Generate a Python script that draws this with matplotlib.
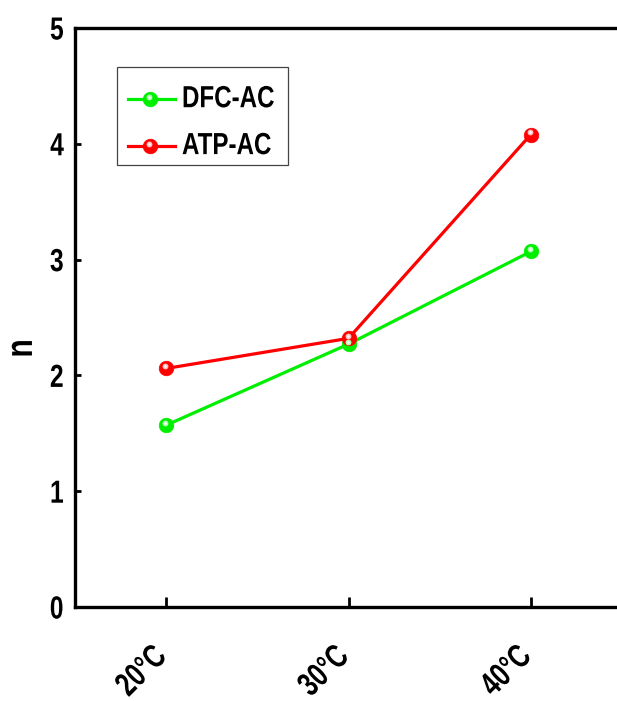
import matplotlib
matplotlib.use("Agg")
import matplotlib.pyplot as plt
import matplotlib.transforms as mtransforms
from matplotlib.patches import Rectangle
from matplotlib.patheffects import AbstractPathEffect

# dados
categorias = ["20°C", "30°C", "40°C"]
dfc_ac = [1.57, 2.27, 3.07]
atp_ac = [2.06, 2.32, 4.08]
nomes = ["DFC-AC", "ATP-AC"]
cores = ["#00ee00", "#ff0000"]
cores_claras = ["#b0ffb0", "#ffc0c0"]
yticks = [0, 1, 2, 3, 4, 5]


class Estreitar(AbstractPathEffect):
    # comprime o texto na horizontal (imita fonte "narrow")
    def __init__(self, sx=0.77, ancora="center", dx=0, dy=0):
        super().__init__()
        self.sx = sx
        self.ancora = ancora
        self.dx = dx
        self.dy = dy

    def draw_path(self, renderer, gc, tpath, affine, rgbFace=None):
        v = tpath.vertices
        if len(v) == 0:
            return
        if self.ancora == "right":
            cx = v[:, 0].max()
        elif self.ancora == "left":
            cx = v[:, 0].min()
        else:
            cx = (v[:, 0].min() + v[:, 0].max()) / 2
        t = mtransforms.Affine2D().translate(-cx, 0).scale(self.sx, 1).translate(cx, 0)
        desl = mtransforms.Affine2D().translate(self.dx, self.dy)
        renderer.draw_path(gc, tpath, t + affine + desl, rgbFace)


plt.rcParams["font.family"] = ["Liberation Sans", "DejaVu Sans"]
plt.rcParams["font.weight"] = "bold"

fig = plt.figure(figsize=(6.17, 7.01), dpi=100)
ax = fig.add_axes([75 / 617, 94 / 701, 547 / 617, 579 / 701])

x = list(range(1, len(categorias) + 1))
brilho = mtransforms.ScaledTranslation(-1.0 / 100, 2.5 / 100, fig.dpi_scale_trans)


def esfera(xs, ys, cor, clara, transform):
    ax.plot(xs, ys, ls="none", marker="o", ms=10.5, mfc=cor, mec=cor,
            mew=0.5, transform=transform, zorder=3, clip_on=False)
    ax.plot(xs, ys, ls="none", marker="o", ms=4.2, mfc=clara, mec="none",
            transform=transform + brilho, zorder=4, clip_on=False)
    ax.plot(xs, ys, ls="none", marker="o", ms=1.8, mfc="white", mec="none",
            transform=transform + brilho, zorder=5, clip_on=False)


for vals, cor, clara in zip([dfc_ac, atp_ac], cores, cores_claras):
    ax.plot(x, vals, color=cor, lw=2.3, zorder=2)
    esfera(x, vals, cor, clara, ax.transData)

ax.set_xlim(0.5, 3.5)
ax.set_ylim(0, 5)
ax.set_xticks(x)
ax.set_xticklabels(categorias, rotation=45, fontsize=24, fontweight="bold",
                   ha="right", va="top")
ax.set_yticks(yticks)
ax.set_yticklabels([str(t) for t in yticks], fontsize=23, fontweight="bold")
ax.tick_params(axis="x", direction="in", length=7, width=2, pad=25)
ax.tick_params(axis="y", direction="in", length=4, width=2, pad=8)
for lbl in ax.get_xticklabels():
    lbl.set_path_effects([Estreitar(0.75, "right", dx=7, dy=1)])
for lbl in ax.get_yticklabels():
    lbl.set_path_effects([Estreitar(0.77, "right")])

for s in ["left", "bottom", "top", "right"]:
    ax.spines[s].set_linewidth(2.4)

ax.set_ylabel("n", fontsize=27, fontweight="bold")
ax.yaxis.label.set_va("center")
ax.yaxis.set_label_coords(-0.097, 0.447)
ax.yaxis.label.set_path_effects([Estreitar(0.8, "center")])

# legenda desenhada à mão (texto estreito)
ax.add_patch(Rectangle((0.0768, 0.763), 0.312, 0.170, transform=ax.transAxes,
                       fill=True, facecolor="white", edgecolor="#444444",
                       lw=0.9, zorder=6))
linhas_leg = [0.877, 0.796]
for nome, cor, clara, yl in zip(nomes, cores, cores_claras, linhas_leg):
    ax.plot([0.0969, 0.183], [yl, yl], color=cor, lw=2.3,
            transform=ax.transAxes, zorder=7, clip_on=False)
    for ln in ax.plot([0.137], [yl], ls="none", marker="o", ms=10.5, mfc=cor,
                      mec=cor, mew=0.5, transform=ax.transAxes, clip_on=False):
        ln.set_zorder(8)
    ax.plot([0.137], [yl], ls="none", marker="o", ms=4.2, mfc=clara, mec="none",
            transform=ax.transAxes + brilho, zorder=9, clip_on=False)
    ax.plot([0.137], [yl], ls="none", marker="o", ms=1.8, mfc="white", mec="none",
            transform=ax.transAxes + brilho, zorder=10, clip_on=False)
    ax.text(0.1956, yl, nome, transform=ax.transAxes, fontsize=22,
            fontweight="bold", ha="left", va="center", zorder=9,
            path_effects=[Estreitar(0.79, "left")])

fig.savefig("out.png", dpi=100)
